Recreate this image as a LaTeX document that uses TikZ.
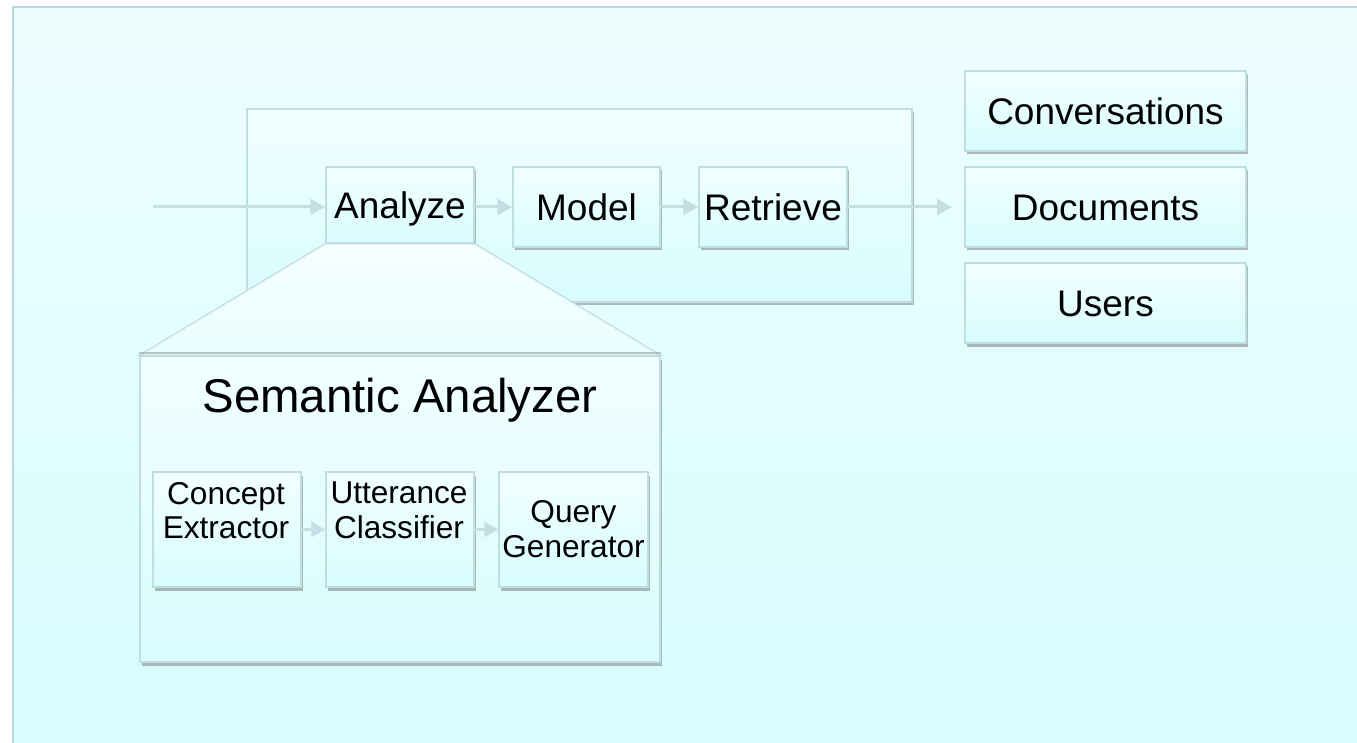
\documentclass[tikz,border=0pt]{standalone}
\usepackage{fontspec}
\setmainfont{Liberation Sans}
\usetikzlibrary{arrows.meta,shadows}
\definecolor{bgtop}{HTML}{EEFEFF}
\definecolor{bgbot}{HTML}{D6FDFF}
\definecolor{boxtop}{HTML}{F2FFFF}
\definecolor{boxbot}{HTML}{D8FCFF}
\definecolor{traptop}{HTML}{F6FFFF}
\definecolor{trapbot}{HTML}{EAFEFF}
\definecolor{bord}{HTML}{BFDEE2}
\definecolor{framebord}{HTML}{BBD7DC}
\definecolor{arrcol}{HTML}{C3DFE3}
\begin{document}
\begin{tikzpicture}[x=1pt,y=-1pt,
  shad/.style={drop shadow={shadow xshift=1.5pt,shadow yshift=-3.5pt,opacity=0.45,fill=black!60}},
  box/.style={rectangle,draw=bord,line width=1.5pt,top color=boxtop,bottom color=boxbot,inner sep=0pt,shad},
  mainbox/.style={box,minimum width=148pt,minimum height=80pt,font=\fontsize{37}{42}\selectfont,text height=26.5pt,text depth=0pt},
  sidebox/.style={box,minimum width=281pt,minimum height=80pt,font=\fontsize{37}{42}\selectfont,text height=26.5pt,text depth=0pt},
  subbox/.style={box,minimum width=148pt,minimum height=115pt},
  subtxt/.style={inner sep=0pt,align=center,font=\fontsize{31.6}{34.5}\selectfont},
  arr/.style={draw=arrcol,line width=3pt,-{Triangle[length=15pt,width=16pt]}},
  sarr/.style={draw=arrcol,line width=3pt,-{Triangle[length=14pt,width=15pt]}}]
\fill[white] (0,0) rectangle (1357,743);
\useasboundingbox (0,0) rectangle (1357,743);
% outer frame
\draw[draw=framebord,line width=2pt,top color=bgtop,bottom color=bgbot] (13,7) rectangle (1380,770);
% pipeline container
\node[box,minimum width=665pt,minimum height=193pt] (pipe) at (579.5,205.5) {};
\node[mainbox,minimum height=76pt] (an) at (400,205) {Analyze};
\node[mainbox,minimum width=147pt] (mo) at (586.5,207) {Model};
\node[mainbox] (re) at (773,207) {Retrieve};
% semantic analyzer
\node[box,minimum width=520pt,minimum height=306pt] (sa) at (400,509) {};
\filldraw[draw=bord,line width=1.2pt,top color=traptop,bottom color=trapbot]
  (an.south west) -- (an.south east) -- (sa.north east) -- (sa.north west) -- cycle;
\draw[black!45,opacity=0.5,line width=2pt] ([yshift=2pt]sa.north west) -- ([yshift=2pt]sa.north east);
\node[inner sep=0pt,font=\fontsize{47.4}{52}\selectfont,text height=34pt,text depth=0pt] (sat) at (400,395.5) {Semantic Analyzer};
\node[subbox] (ce) at (227,529.5) {};
\node[subbox] (uc) at (400,529.5) {};
\node[subbox,minimum width=149pt] (qg) at (573.5,529.5) {};
\node[subtxt,anchor=north] (cet) at (226,482) {Concept\\Extractor};
\node[subtxt,anchor=north] (uct) at (399,482) {Utterance\\Classifier};
\node[subtxt] (qgt) at (573.5,529) {Query\\Generator};
% data stores
\node[sidebox] (conv) at (1105.5,111) {Conversations};
\node[sidebox] (docs) at (1105.5,207) {Documents};
\node[sidebox] (users) at (1105.5,303) {Users};
% connectors
\coordinate (in) at (153,207);
\coordinate (out) at (952,207);
\draw[arr] (in) -- (in -| an.west);
\draw[arr] (in -| an.east) -- (mo.west);
\draw[arr] (mo.east) -- (re.west);
\draw[arr] (re.east) -- (out);
\draw[sarr] (ce.east) -- (uc.west);
\draw[sarr] (uc.east) -- (qg.west);
\end{tikzpicture}
\end{document}
